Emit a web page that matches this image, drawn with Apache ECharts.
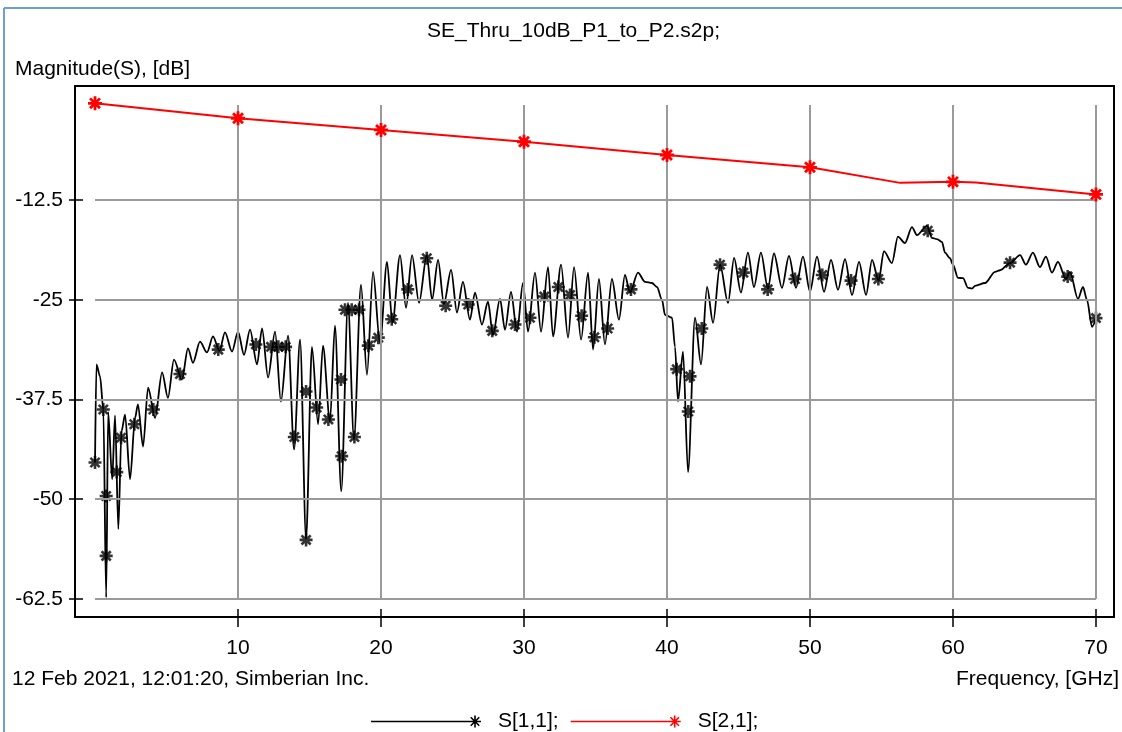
<!DOCTYPE html>
<html>
<head>
<meta charset="utf-8">
<script src="https://cdn.jsdelivr.net/npm/echarts@6/dist/echarts.min.js"></script>
<style>
html,body{margin:0;padding:0;background:#ffffff;}
#chart{width:1122px;height:732px;}
</style>
</head>
<body>
<div id="chart"></div>
<script>
// ---------- text ----------
const chartTitle = 'SE_Thru_10dB_P1_to_P2.s2p;';
const yAxisTitle = 'Magnitude(S), [dB]';
const xAxisTitle = 'Frequency, [GHz]';
const stampText = '12 Feb 2021, 12:01:20, Simberian Inc.';
const seriesNames = ['S[1,1];', 'S[2,1];'];

// ---------- ticks ----------
const xTickValues = [10, 20, 30, 40, 50, 60, 70];
const yTickValues = [-12.5, -25, -37.5, -50, -62.5];

// ---------- S[2,1] (GHz, dB) ----------
const s21Freq = [0, 10, 20, 30, 40, 50, 56.3, 60, 61.6, 70];
const s21Mag  = [-0.38, -2.25, -3.72, -5.2, -6.86, -8.4, -10.35, -10.22, -10.3, -11.8];
const s21MarkerFreq = [0, 10, 20, 30, 40, 50, 60, 70];

// ---------- S[1,1] (GHz, dB) ----------
const s11Freq = [
  0.00, 0.10, 0.35, 0.58, 0.78, 0.92, 1.20, 1.40, 1.63, 1.85,
  2.10, 2.45, 2.80, 3.00, 3.36, 3.71, 4.20, 4.69, 5.10, 5.52,
  6.08, 6.50, 6.85, 7.34, 7.83, 8.25, 8.70, 9.09, 9.58, 10.00,
  10.42, 10.84, 11.33, 11.68, 12.10, 12.59, 13.00, 13.50, 13.92, 14.34,
  14.76, 15.17, 15.60, 15.94, 16.43, 16.78, 17.22, 17.69, 18.11, 18.60,
  19.02, 19.44, 19.93, 20.42, 20.80, 21.33, 21.75, 22.17, 22.66, 23.20,
  23.57, 23.99, 24.40, 24.90, 25.31, 25.73, 26.22, 26.57, 27.06, 27.48,
  27.83, 28.32, 28.67, 29.09, 29.51, 29.93, 30.28, 30.77, 31.19, 31.68,
  32.03, 32.59, 33.08, 33.50, 33.99, 34.48, 34.83, 35.24, 35.66, 36.15,
  36.64, 37.06, 37.41, 37.97, 38.46, 38.95, 39.30, 39.65, 39.86, 40.35,
  40.56, 40.77, 41.12, 41.47, 41.96, 42.38, 42.80, 43.22, 43.71, 44.27,
  44.69, 45.17, 45.66, 46.08, 46.57, 47.06, 47.48, 48.04, 48.53, 49.02,
  49.51, 50.00, 50.49, 50.98, 51.47, 51.96, 52.45, 52.94, 53.43, 53.92,
  54.34, 54.80, 55.17, 55.73, 56.15, 56.64, 57.13, 57.48, 58.18, 58.53,
  58.88, 59.23, 59.44, 59.79, 60.00, 60.35, 60.70, 61.05, 61.33, 61.54,
  62.24, 62.94, 63.29, 63.99, 64.69, 65.10, 65.59, 66.08, 66.50, 66.92,
  67.34, 67.90, 68.18, 68.74, 69.09, 69.37, 69.72, 70.00
];
const s11Mag = [
  -45.4, -33.1, -34.6, -38.75, -62.3, -39.1, -47.5, -39.5, -53.75, -41.5,
  -39.4, -47.5, -39.8, -38.1, -43.4, -36.0, -39.8, -34.1, -37.3, -32.5,
  -35.0, -31.1, -32.9, -30.25, -31.6, -29.6, -31.4, -29.1, -31.5, -29.0,
  -31.9, -28.75, -33.1, -28.6, -34.75, -29.0, -37.75, -29.5, -43.75, -30.0,
  -55.0, -30.9, -40.6, -30.75, -40.25, -28.25, -49.0, -25.4, -42.5, -23.1,
  -34.4, -21.5, -30.5, -20.25, -27.9, -19.4, -26.0, -19.4, -25.4, -19.4,
  -25.0, -20.0, -25.5, -21.25, -26.6, -22.75, -27.5, -24.1, -28.1, -25.25,
  -29.4, -24.9, -28.75, -24.0, -29.0, -22.9, -29.0, -21.6, -29.0, -20.9,
  -29.6, -20.6, -29.75, -20.9, -30.0, -21.6, -31.25, -22.4, -30.6, -22.4,
  -27.5, -21.9, -24.1, -21.6, -22.75, -22.9, -23.4, -25.0, -26.9, -27.25,
  -30.9, -37.75, -31.5, -46.6, -27.25, -33.1, -23.4, -27.9, -20.6, -25.4,
  -19.75, -24.1, -19.1, -23.4, -19.1, -23.6, -19.2, -23.5, -19.5, -23.5,
  -19.6, -24.0, -19.6, -24.0, -20.0, -23.75, -19.9, -24.4, -20.25, -24.4,
  -20.0, -22.6, -18.9, -20.4, -17.1, -17.9, -15.9, -16.9, -15.75, -17.25,
  -17.4, -17.75, -19.1, -19.8, -20.6, -22.25, -22.3, -23.5, -23.6, -23.25,
  -22.9, -21.5, -21.3, -20.4, -19.4, -20.6, -19.1, -20.9, -19.6, -21.6,
  -20.25, -22.4, -21.5, -24.9, -23.4, -25.0, -28.4, -27.25
];
// S[1,1] marker points (GHz, dB)
const s11MarkerFreq = [
  0.00, 0.58, 0.78, 0.78, 1.52, 1.82, 2.75, 4.08, 5.94, 8.62,
  11.25, 12.31, 12.82, 13.33, 13.94, 14.76, 14.76, 15.50, 16.32, 17.20,
  17.25, 17.48, 17.95, 18.14, 18.46, 19.11, 19.81, 20.75, 21.87, 23.20,
  24.52, 26.10, 27.78, 29.37, 30.42, 31.42, 32.40, 33.22, 34.03, 34.92,
  35.85, 37.48, 40.68, 41.49, 41.61, 42.43, 43.71, 45.34, 47.04, 48.95,
  50.86, 52.87, 54.78, 58.23, 63.99, 68.02, 70.00
];
const s11MarkerMag = [
  -45.4, -38.75, -49.6, -57.1, -46.6, -42.3, -40.6, -38.75, -34.3, -31.25,
  -30.6, -30.9, -30.9, -30.9, -42.2, -36.5, -55.1, -38.5, -40.0, -35.0,
  -44.6, -26.25, -26.25, -42.2, -26.25, -30.75, -29.75, -27.45, -23.7, -19.8,
  -25.75, -25.6, -28.9, -28.1, -27.25, -24.6, -23.4, -24.4, -27.0, -29.7,
  -28.6, -23.7, -33.7, -39.0, -34.6, -28.6, -20.6, -21.6, -23.7, -22.4,
  -21.9, -22.6, -22.4, -16.35, -20.35, -22.1, -27.3
];

// ---------- chart ----------
const FONT = '"Liberation Sans", Arial, sans-serif';
const FS = 21;
const STAR = 'path://M-1.2 -6L1.2 -6L1.2 6L-1.2 6ZM-6 -1.2L6 -1.2L6 1.2L-6 1.2ZM-5.09 -3.39L-3.39 -5.09L5.09 3.39L3.39 5.09ZM3.39 -5.09L5.09 -3.39L-3.39 5.09L-5.09 3.39Z';
const LEG_ICON = 'path://M0 5.2L104 5.2L104 6.8L0 6.8ZM103.2 0L104.8 0L104.8 12L103.2 12ZM98 5.2L110 5.2L110 6.8L98 6.8ZM99.2 2.3L100.3 1.2L108.8 9.7L107.7 10.8ZM107.7 1.2L108.8 2.3L100.3 10.8L99.2 9.7Z';

const X_MIN = -1.4, X_MAX = 71.26;
const Y_MIN = -64.76, Y_MAX = 1.79;
const GRID_TOP_DB = -0.6;

const s11Data = s11Freq.map((f, i) => [f, s11Mag[i]]);
const s11Markers = s11MarkerFreq.map((f, i) => [f, s11MarkerMag[i]]);
const s21Data = s21Freq.map((f, i) => [f, s21Mag[i]]);

const gridLines = [];
xTickValues.forEach(v => gridLines.push([{coord: [v, GRID_TOP_DB]}, {coord: [v, yTickValues[yTickValues.length - 1]]}]));
yTickValues.forEach(v => gridLines.push([{coord: [0, v]}, {coord: [xTickValues[xTickValues.length - 1], v]}]));

const chart = echarts.init(document.getElementById('chart'), null, {renderer: 'canvas'});
chart.setOption({
  animation: false,
  backgroundColor: '#ffffff',
  textStyle: {fontFamily: FONT},
  title: {
    text: chartTitle, left: 422, top: 16,
    textStyle: {fontSize: FS, fontWeight: 'normal', color: '#000', fontFamily: FONT}
  },
  grid: {left: 75, right: 8, top: 86, bottom: 115, show: true, borderColor: '#000', borderWidth: 2, containLabel: false},
  legend: {
    left: 366, top: 706, itemWidth: 110, itemHeight: 12, itemGap: 12, selectedMode: false,
    textStyle: {fontSize: FS, color: '#000', fontFamily: FONT, padding: [0, 0, 0, 12]},
    data: [{name: seriesNames[0], icon: LEG_ICON}, {name: seriesNames[1], icon: LEG_ICON}]
  },
  xAxis: [{
    type: 'value', min: X_MIN, max: X_MAX, position: 'bottom',
    axisLine: {show: true, onZero: false, lineStyle: {color: '#000', width: 2}},
    axisTick: {show: true, customValues: xTickValues, length: 10, lineStyle: {color: '#000', width: 1.5}},
    axisLabel: {show: true, customValues: xTickValues, fontSize: FS, color: '#000', margin: 21, fontFamily: FONT},
    splitLine: {show: false}
  }, {
    type: 'value', min: X_MIN, max: X_MAX, position: 'bottom',
    axisLine: {show: false, onZero: false},
    axisTick: {show: true, inside: true, customValues: xTickValues, length: 8, lineStyle: {color: '#000', width: 1.5}},
    axisLabel: {show: false},
    splitLine: {show: false}
  }],
  yAxis: [{
    type: 'value', min: Y_MIN, max: Y_MAX, position: 'left',
    axisLine: {show: true, onZero: false, lineStyle: {color: '#000', width: 2}},
    axisTick: {show: true, customValues: yTickValues, length: 6, lineStyle: {color: '#000', width: 1.5}},
    axisLabel: {show: true, customValues: yTickValues, fontSize: FS, color: '#000', margin: 12, fontFamily: FONT},
    splitLine: {show: false}
  }, {
    type: 'value', min: Y_MIN, max: Y_MAX, position: 'left',
    axisLine: {show: false, onZero: false},
    axisTick: {show: true, inside: true, customValues: yTickValues, length: 8, lineStyle: {color: '#000', width: 1.5}},
    axisLabel: {show: false},
    splitLine: {show: false}
  }],
  series: [{
    name: '_grid', type: 'line', data: [], z: 1, silent: true,
    markLine: {
      silent: true, symbol: ['none', 'none'], animation: false,
      label: {show: false},
      lineStyle: {color: '#9a9a9a', width: 2, type: 'solid'},
      emphasis: {disabled: true},
      data: gridLines
    }
  }, {
    name: seriesNames[0], type: 'line', data: s11Data, z: 3,
    symbol: 'none', showSymbol: false, smooth: 0.3, smoothMonotone: 'x',
    lineStyle: {color: '#000', width: 1.8}, itemStyle: {color: '#000'},
    emphasis: {disabled: true}
  }, {
    name: seriesNames[0], type: 'scatter', data: s11Markers, z: 4,
    symbol: STAR, symbolSize: 13, itemStyle: {color: '#000'},
    emphasis: {disabled: true}
  }, {
    name: seriesNames[1], type: 'line', data: s21Data, z: 5,
    showAllSymbol: true,
    symbol: function (v) { return s21MarkerFreq.indexOf(v[0]) >= 0 ? STAR : 'none'; },
    symbolSize: 14,
    lineStyle: {color: '#ff0000', width: 2}, itemStyle: {color: '#ff0000'},
    emphasis: {disabled: true}
  }],
  graphic: [
    {type: 'line', shape: {x1: 4, y1: 8, x2: 1122, y2: 8}, style: {stroke: '#6e9ed6', lineWidth: 2}, silent: true},
    {type: 'line', shape: {x1: 4, y1: 8, x2: 4, y2: 732}, style: {stroke: '#6e9ed6', lineWidth: 2}, silent: true},
    {type: 'text', left: 15, top: 59, style: {text: yAxisTitle, font: FS + 'px ' + FONT, fill: '#000'}, silent: true},
    {type: 'text', left: 12, top: 669, style: {text: stampText, font: FS + 'px ' + FONT, fill: '#000'}, silent: true},
    {type: 'text', right: 3, top: 669, style: {text: xAxisTitle, font: FS + 'px ' + FONT, fill: '#000'}, silent: true}
  ]
});
</script>
</body>
</html>
